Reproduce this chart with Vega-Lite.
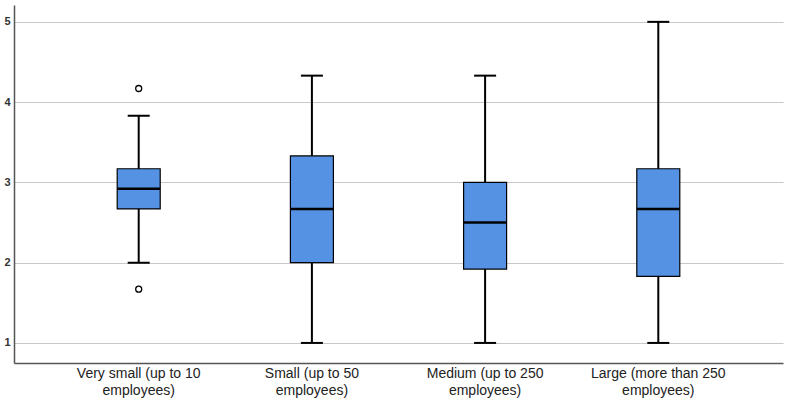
{
  "$schema": "https://vega.github.io/schema/vega-lite/v6.json",
  "width": 769,
  "height": 358,
  "autosize": {"type": "none"},
  "padding": {"left": 14, "top": 5, "right": 7, "bottom": 40},
  "background": "white",
  "config": {
    "view": {"stroke": null},
    "font": "Liberation Sans"
  },
  "datasets": {
    "boxes": [
      {"group": "Very small (up to 10|employees)", "min": 2.0, "q1": 2.67, "median": 2.92, "q3": 3.17, "max": 3.83},
      {"group": "Small (up to 50|employees)", "min": 1.0, "q1": 2.0, "median": 2.67, "q3": 3.33, "max": 4.33},
      {"group": "Medium (up to 250|employees)", "min": 1.0, "q1": 1.92, "median": 2.5, "q3": 3.0, "max": 4.33},
      {"group": "Large (more than 250|employees)", "min": 1.0, "q1": 1.83, "median": 2.67, "q3": 3.17, "max": 5.0}
    ],
    "outliers": [
      {"group": "Very small (up to 10|employees)", "value": 4.17},
      {"group": "Very small (up to 10|employees)", "value": 1.67}
    ]
  },
  "encoding": {
    "x": {
      "field": "group",
      "type": "nominal",
      "sort": null,
      "scale": {
        "domain": ["Very small (up to 10|employees)", "Small (up to 50|employees)", "Medium (up to 250|employees)", "Large (more than 250|employees)"],
        "paddingInner": 0,
        "paddingOuter": 0.22
      },
      "axis": {
        "title": null,
        "labelAngle": 0,
        "labelExpr": "split(datum.label, '|')",
        "labelFontSize": 14,
        "labelColor": "#222222",
        "labelPadding": 3,
        "labelLineHeight": 17,
        "ticks": false,
        "domainColor": "#555555",
        "domainWidth": 1.5,
        "grid": false
      }
    }
  },
  "layer": [
    {
      "data": {"name": "boxes"},
      "mark": {"type": "rule", "color": "#000000", "strokeWidth": 2},
      "encoding": {
        "y": {
          "field": "min",
          "type": "quantitative",
          "scale": {"domain": [0.75, 5.21], "nice": false, "zero": false},
          "axis": {
            "title": null,
            "values": [1, 2, 3, 4, 5],
            "format": "d",
            "grid": true,
            "gridColor": "#c8c8c8",
            "gridWidth": 1.2,
            "ticks": false,
            "labelFontSize": 11,
            "labelFontWeight": "bold",
            "labelColor": "#333333",
            "labelPadding": 4,
            "domainColor": "#555555",
            "domainWidth": 1.5
          }
        },
        "y2": {"field": "max"}
      }
    },
    {
      "data": {"name": "boxes"},
      "mark": {"type": "bar", "size": 43, "fill": "#5592E3", "stroke": "#000000", "strokeWidth": 1.2},
      "encoding": {
        "y": {"field": "q1", "type": "quantitative"},
        "y2": {"field": "q3"}
      }
    },
    {
      "data": {"name": "boxes"},
      "mark": {"type": "tick", "color": "#000000", "size": 43, "thickness": 2.5, "opacity": 1},
      "encoding": {
        "y": {"field": "median", "type": "quantitative"}
      }
    },
    {
      "data": {"name": "boxes"},
      "mark": {"type": "tick", "color": "#000000", "size": 22, "thickness": 2, "opacity": 1},
      "encoding": {
        "y": {"field": "min", "type": "quantitative"}
      }
    },
    {
      "data": {"name": "boxes"},
      "mark": {"type": "tick", "color": "#000000", "size": 22, "thickness": 2, "opacity": 1},
      "encoding": {
        "y": {"field": "max", "type": "quantitative"}
      }
    },
    {
      "data": {"name": "outliers"},
      "mark": {"type": "point", "shape": "circle", "filled": false, "stroke": "#000000", "strokeWidth": 1.3, "size": 36, "opacity": 1},
      "encoding": {
        "y": {"field": "value", "type": "quantitative"}
      }
    }
  ]
}
